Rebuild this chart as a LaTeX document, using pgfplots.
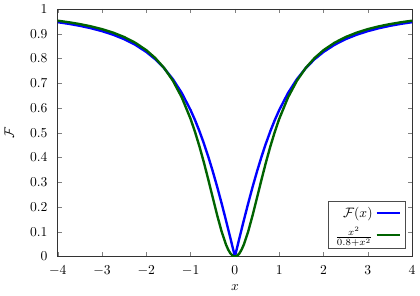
\documentclass[border=0pt]{standalone}
\usepackage{pgfplots}
\pgfplotsset{compat=1.18}
\definecolor{dgreen}{rgb}{0,0.39,0}
\begin{document}
\begin{tikzpicture}
\begin{axis}[
  scale only axis,
  width=259bp, height=181bp,
  xmin=-4, xmax=4, ymin=0, ymax=1,
  xtick={-4,-3,-2,-1,0,1,2,3,4},
  ytick={0,0.1,0.2,0.3,0.4,0.5,0.6,0.7,0.8,0.9,1},
  yticklabel style={/pgf/number format/fixed, xshift=-4bp},
  xticklabel style={yshift=-3bp},
  tick align=inside,
  major tick length=3.2bp,
  xlabel={$x$}, ylabel={$\mathcal{F}$},
  xlabel style={yshift=0bp},
  ylabel style={yshift=5bp},
  axis line style={black!80},
  legend plot pos=right,
  legend cell align=right,
  legend style={at={(rel axis cs:0.981,0.031)}, anchor=south east,
    draw=black!70, font=\normalsize, row sep=2pt, inner xsep=3pt},
]
\addplot[blue, line width=1.75pt] coordinates {
(-4.0,0.9465)(-3.75,0.9398)(-3.5,0.9318)(-3.25,0.9221)(-3.0,0.9103)(-2.75,0.8959)
(-2.5,0.8779)(-2.25,0.8552)(-2.0,0.8262)(-1.8,0.7971)(-1.6,0.7610)(-1.4,0.7163)
(-1.2,0.6606)(-1.0,0.5913)(-0.9,0.5508)(-0.8,0.5060)(-0.7,0.4566)(-0.6,0.4027)
(-0.5,0.3442)(-0.4,0.2814)(-0.3,0.2148)(-0.2,0.1451)(-0.15,0.1093)(-0.1,0.0731)
(-0.05,0.0366)(0,0)
(0.05,0.0366)(0.1,0.0731)(0.15,0.1093)(0.2,0.1451)(0.3,0.2148)(0.4,0.2814)
(0.5,0.3442)(0.6,0.4027)(0.7,0.4566)(0.8,0.5060)(0.9,0.5508)(1.0,0.5913)
(1.2,0.6606)(1.4,0.7163)(1.6,0.7610)(1.8,0.7971)(2.0,0.8262)(2.25,0.8552)
(2.5,0.8779)(2.75,0.8959)(3.0,0.9103)(3.25,0.9221)(3.5,0.9318)(3.75,0.9398)(4.0,0.9465)
};
\addlegendentry{$\mathcal{F}(x)$}
\addplot[dgreen, line width=1.75pt] coordinates {
(-4.0,0.9524)(-3.75,0.9462)(-3.5,0.9387)(-3.25,0.9296)(-3.0,0.9184)(-2.75,0.9043)
(-2.5,0.8865)(-2.25,0.8635)(-2.0,0.8333)(-1.8,0.8020)(-1.6,0.7619)(-1.4,0.7101)
(-1.2,0.6429)(-1.0,0.5556)(-0.9,0.5031)(-0.8,0.4444)(-0.7,0.3798)(-0.6,0.3103)
(-0.5,0.2381)(-0.4,0.1667)(-0.3,0.1011)(-0.2,0.0476)(-0.15,0.0274)(-0.1,0.0123)
(-0.05,0.0031)(0,0)
(0.05,0.0031)(0.1,0.0123)(0.15,0.0274)(0.2,0.0476)(0.3,0.1011)(0.4,0.1667)
(0.5,0.2381)(0.6,0.3103)(0.7,0.3798)(0.8,0.4444)(0.9,0.5031)(1.0,0.5556)
(1.2,0.6429)(1.4,0.7101)(1.6,0.7619)(1.8,0.8020)(2.0,0.8333)(2.25,0.8635)
(2.5,0.8865)(2.75,0.9043)(3.0,0.9184)(3.25,0.9296)(3.5,0.9387)(3.75,0.9462)(4.0,0.9524)
};
\addlegendentry{$\frac{x^2}{0.8+x^2}$}
\end{axis}
\end{tikzpicture}
\end{document}
